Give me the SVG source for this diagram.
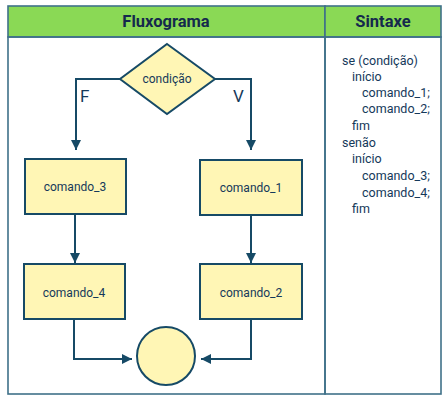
<svg xmlns="http://www.w3.org/2000/svg" width="447" height="403" viewBox="0 0 447 403">
<defs>
<style>
.frame{fill:none;stroke:#3f7189;stroke-width:1.6}
.hdr{fill:#8ad955;stroke:#3f7189;stroke-width:1.6}
.ht{font-family:Roboto,"Liberation Sans",sans-serif;font-weight:bold;font-size:16.5px;fill:#15294d;text-anchor:middle}
.node{fill:#fff6b5;stroke:#164a66;stroke-width:2}
.nt{font-family:Roboto,"Liberation Sans",sans-serif;font-size:12px;fill:#15395a;text-anchor:middle}
.lbl{font-family:Roboto,"Liberation Sans",sans-serif;font-size:17px;fill:#15395a}
.code{font-family:Roboto,"Liberation Sans",sans-serif;font-size:12.5px;fill:#15395a}
.edge{fill:none;stroke:#164a66;stroke-width:2}
</style>
<marker id="ah" viewBox="0 0 10 10" refX="10" refY="5" markerWidth="5" markerHeight="5" orient="auto" markerUnits="strokeWidth">
<path d="M0,0 L10,5 L0,10 z" fill="#164a66"/>
</marker>
</defs>
<rect x="0" y="0" width="447" height="403" fill="#ffffff"/>
<g id="frame">
<rect class="hdr" x="8" y="6" width="317" height="31"/>
<rect class="hdr" x="325" y="6" width="116" height="31"/>
<rect class="frame" x="8" y="37" width="317" height="357"/>
<rect class="frame" x="325" y="37" width="116" height="357"/>
<text class="ht" x="166" y="27">Fluxograma</text>
<text class="ht" x="383" y="27">Sintaxe</text>
</g>
<g id="connectors">
<path class="edge" d="M120,79 H76 V150" marker-end="url(#ah)"/>
<path class="edge" d="M215,79 H251 V150" marker-end="url(#ah)"/>
<path class="edge" d="M75,214 V263" marker-end="url(#ah)"/>
<path class="edge" d="M251,215 V263" marker-end="url(#ah)"/>
<path class="edge" d="M74,319 V359 H132" marker-end="url(#ah)"/>
<path class="edge" d="M251,319 V359 H201" marker-end="url(#ah)"/>
<text class="lbl" x="80" y="102">F</text>
<text class="lbl" x="233" y="102">V</text>
</g>
<g id="decision">
<polygon class="node" points="167,44 215,79 167,114 120,79"/>
<text class="nt" x="167" y="83">condição</text>
</g>
<g id="comando_3">
<rect class="node" x="25" y="159" width="101" height="55"/>
<text class="nt" x="75" y="191">comando_3</text>
</g>
<g id="comando_1">
<rect class="node" x="200" y="160" width="102" height="55"/>
<text class="nt" x="251" y="192">comando_1</text>
</g>
<g id="comando_4">
<rect class="node" x="24" y="264" width="101" height="55"/>
<text class="nt" x="74" y="297">comando_4</text>
</g>
<g id="comando_2">
<rect class="node" x="200" y="264" width="102" height="55"/>
<text class="nt" x="251" y="297">comando_2</text>
</g>
<g id="end">
<circle class="node" cx="166" cy="356" r="29"/>
</g>
<g id="syntax">
<text class="code" x="342" y="65">se (condição)</text>
<text class="code" x="352" y="81">início</text>
<text class="code" x="362" y="97">comando_1;</text>
<text class="code" x="362" y="113">comando_2;</text>
<text class="code" x="352" y="130">fim</text>
<text class="code" x="342" y="147">senão</text>
<text class="code" x="352" y="163">início</text>
<text class="code" x="362" y="180">comando_3;</text>
<text class="code" x="362" y="197">comando_4;</text>
<text class="code" x="352" y="213">fim</text>
</g>
</svg>
